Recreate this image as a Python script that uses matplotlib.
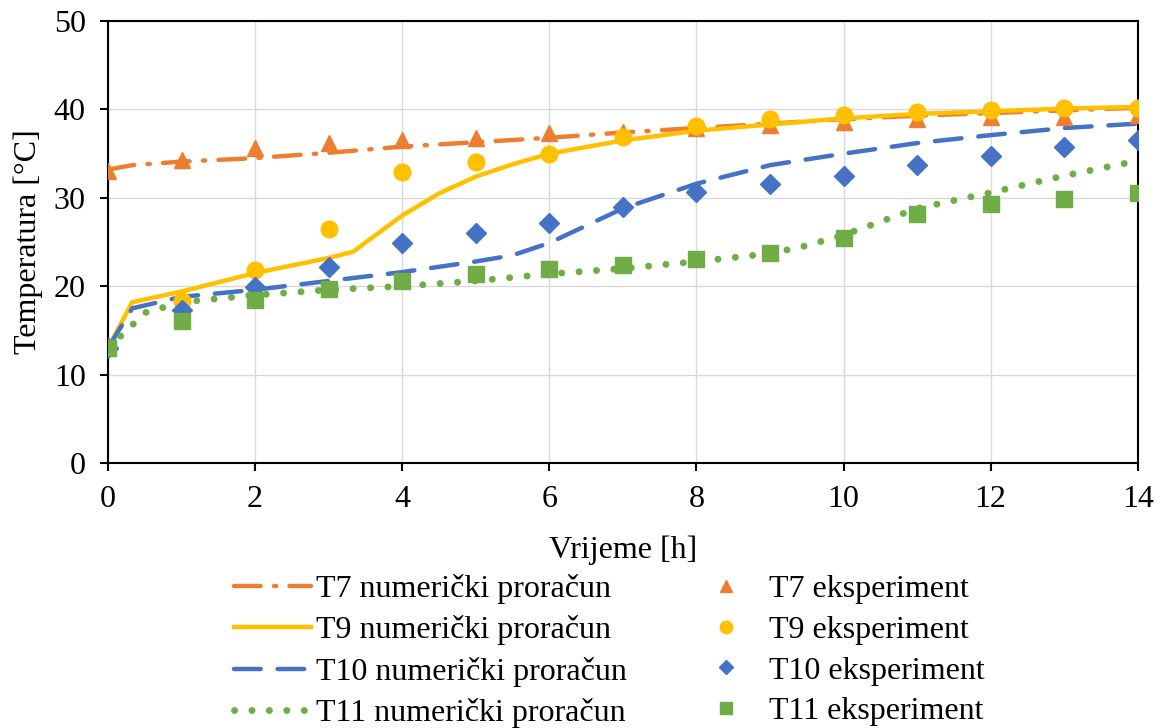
import numpy as np
import matplotlib
matplotlib.use("Agg")
import matplotlib.pyplot as plt

plt.rcParams['font.family'] = ['Liberation Serif', 'DejaVu Serif']

# experiment, every hour
t_exp = [0, 1, 2, 3, 4, 5, 6, 7, 8, 9, 10, 11, 12, 13, 14]
T7_exp = [33.0, 34.3, 35.6, 36.2, 36.5, 36.8, 37.3, 37.5, 37.9, 38.2, 38.6, 38.9, 39.2, 39.2, 39.4]
T9_exp = [13.0, 18.3, 21.8, 26.5, 32.9, 34.1, 35.0, 36.9, 38.1, 38.9, 39.4, 39.7, 39.9, 40.2, 40.2]
T10_exp = [13.0, 17.3, 19.9, 22.2, 24.9, 26.0, 27.2, 29.0, 30.7, 31.6, 32.5, 33.7, 34.7, 35.7, 36.6]
T11_exp = [13.0, 16.1, 18.4, 19.7, 20.6, 21.4, 21.9, 22.4, 23.1, 23.8, 25.5, 28.2, 29.3, 29.9, 30.6]

# numerical results
t7_num = [0, 0.33, 1, 2, 3, 4, 5, 6, 7, 8, 9, 10, 11, 12, 13, 14]
T7_num = [33.2, 33.7, 34.1, 34.5, 35.1, 35.8, 36.3, 36.8, 37.4, 37.9, 38.4, 38.9, 39.3, 39.6, 39.9, 40.2]

t9_num = [0, 0.33, 1, 2, 3, 3.33, 4, 4.5, 5, 5.5, 6, 7, 8, 9, 10, 11, 12, 13, 14]
T9_num = [13.0, 18.2, 19.4, 21.5, 23.2, 23.9, 28.0, 30.5, 32.4, 33.8, 35.0, 36.5, 37.6, 38.3, 39.0, 39.5, 39.8, 40.1, 40.3]

t10_num = [0, 0.33, 1, 2, 3, 4, 5, 5.5, 6, 7, 8, 9, 10, 11, 12, 13, 14]
T10_num = [13.0, 17.5, 18.8, 19.6, 20.6, 21.6, 22.8, 23.5, 24.9, 28.8, 31.6, 33.7, 35.0, 36.2, 37.1, 37.9, 38.4]

t11_num = [0, 0.33, 0.5, 1, 2, 3, 4, 5, 6, 7, 8, 9, 9.5, 10, 11, 12, 13, 14]
T11_num = [13.0, 15.6, 17.0, 18.2, 19.0, 19.6, 20.0, 20.6, 21.4, 22.0, 22.8, 23.7, 24.6, 25.8, 28.8, 30.6, 32.5, 34.2]

orange = '#ED7D31'
yellow = '#FFC000'
blue = '#4472C4'
green = '#70AD47'

fig = plt.figure(figsize=(11.61, 7.28), dpi=100)
ax = fig.add_axes([0.093, 0.364, 0.887, 0.607])

ax.plot(t7_num, T7_num, color=orange, lw=3.2, dashes=(6, 3, 0.5, 3),
        dash_capstyle='round', label='T7 numerički proračun', zorder=3)
ax.plot(t9_num, T9_num, color=yellow, lw=3.2, label='T9 numerički proračun', zorder=3)
ax.plot(t10_num, T10_num, color=blue, lw=3.2, dashes=(6, 3.8),
        dash_capstyle='round', label='T10 numerički proračun', zorder=3)
ax.plot(t11_num, T11_num, color=green, lw=5, dashes=(0.01, 2.5),
        dash_capstyle='round', label='T11 numerički proračun', zorder=3)

ax.plot(t_exp, T7_exp, '^', color=orange, ms=12, ls='none', label='T7 eksperiment', zorder=4)
ax.plot(t_exp, T9_exp, 'o', color=yellow, ms=12, ls='none', label='T9 eksperiment', zorder=4)
ax.plot(t_exp, T10_exp, 'D', color=blue, ms=10, ls='none', label='T10 eksperiment', zorder=4)
ax.plot(t_exp, T11_exp, 's', color=green, ms=11, ls='none', label='T11 eksperiment', zorder=4)

ax.set_xlim(0, 14)
ax.set_ylim(0, 50)
ax.set_xticks(range(0, 15, 2))
ax.set_yticks(range(0, 51, 10))
ax.grid(True, color='#d9d9d9', lw=1)
ax.set_axisbelow(True)
for s in ax.spines.values():
    s.set_color('black')
    s.set_linewidth(1.5)
ax.tick_params(axis='both', labelsize=23, length=6, width=1.5, direction='out',
               colors='black', pad=10)
ax.set_xlabel('Vrijeme [h]', fontsize=23, labelpad=15)
ax.set_ylabel('Temperatura [°C]', fontsize=23, labelpad=8)

h, l = ax.get_legend_handles_labels()
fig.legend(h, l, ncol=2, loc='lower center', bbox_to_anchor=(0.525, -0.04),
           frameon=False, fontsize=23, handlelength=2.4, handletextpad=0.15,
           columnspacing=1.9, labelspacing=0.36, markerscale=0.75)

fig.savefig('out.png', dpi=100)
